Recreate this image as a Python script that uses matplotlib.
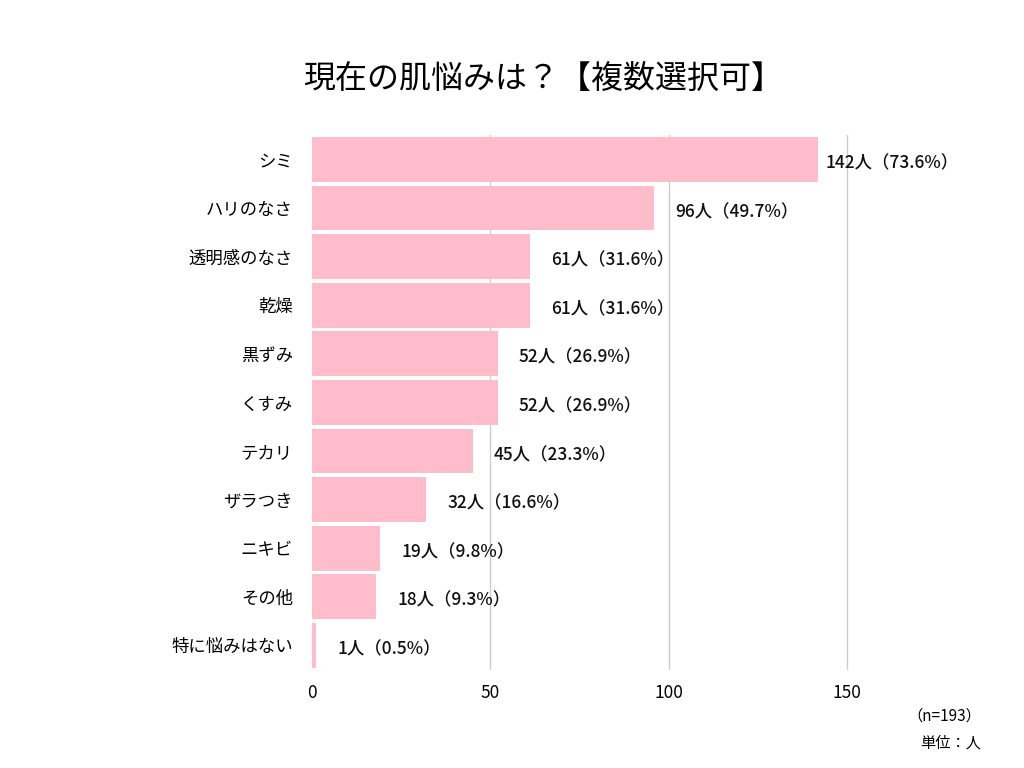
import matplotlib
matplotlib.use("Agg")
import matplotlib.pyplot as plt

plt.rcParams["font.family"] = "Noto Sans CJK JP"

categories = ["シミ", "ハリのなさ", "透明感のなさ", "乾燥", "黒ずみ", "くすみ",
              "テカリ", "ザラつき", "ニキビ", "その他", "特に悩みはない"]
counts = [142, 96, 61, 61, 52, 52, 45, 32, 19, 18, 1]
percents = ["73.6", "49.7", "31.6", "31.6", "26.9", "26.9", "23.3", "16.6", "9.8", "9.3", "0.5"]
xticks = [0, 50, 100, 150]

fig = plt.figure(figsize=(10.24, 7.68), dpi=100)
ax = fig.add_axes([0.305, 0.128, 0.661, 0.696])

y = list(range(len(categories)))
ax.barh(y, counts, height=0.92, color="#FFBDCC", zorder=2)
for yi, c, p in zip(y, counts, percents):
    off = 2 if c > 100 else 6
    ax.text(c + off, yi + 0.08, f"{c}人（{p}%）", va="center", ha="left",
            fontsize=12.5, color="#111111", fontweight="medium")

ax.set_ylim(len(categories) - 0.5, -0.5)
ax.set_xlim(0, 190)
ax.set_yticks(y)
ax.set_yticklabels(categories, fontsize=12.5)
ax.set_xticks(xticks)
ax.set_xticklabels([str(t) for t in xticks], fontsize=12.5)
ax.tick_params(length=0, pad=14)
ax.tick_params(axis="x", pad=10)
for t in xticks[1:]:
    ax.axvline(t, color="#cccccc", lw=1, zorder=1)
for s in ax.spines.values():
    s.set_visible(False)

fig.text(0.53, 0.897, "現在の肌悩みは？【複数選択可】", ha="center", va="center", fontsize=23)
fig.text(0.958, 0.068, "（n=193）", ha="right", va="center", fontsize=11)
fig.text(0.958, 0.032, "単位：人", ha="right", va="center", fontsize=11)

fig.savefig("out.png", dpi=100)
